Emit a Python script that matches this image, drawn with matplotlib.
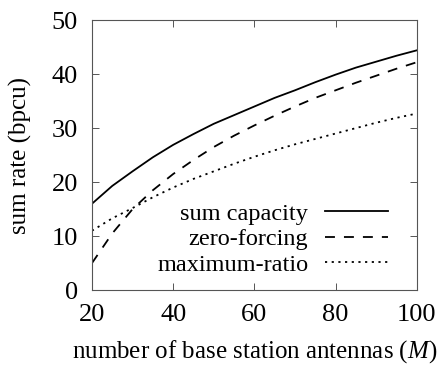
import matplotlib
matplotlib.use('Agg')
import matplotlib.pyplot as plt

plt.rcParams['font.family'] = ['Liberation Serif', 'DejaVu Serif']
plt.rcParams['mathtext.fontset'] = 'custom'
plt.rcParams['mathtext.rm'] = 'Liberation Serif'
plt.rcParams['mathtext.it'] = 'Liberation Serif:italic'

# number of antennas M
antennas = [20, 25, 30, 35, 40, 45, 50, 55, 60, 65, 70, 75, 80, 85, 90, 95, 100]
# sum rates (bpcu)
sum_capacity = [16.0, 19.3, 22.0, 24.6, 26.9, 28.9, 30.8, 32.4, 34.0, 35.6, 37.0, 38.5, 39.9, 41.2, 42.3, 43.4, 44.4]
zero_forcing = [5.0, 10.5, 15.0, 18.5, 21.5, 24.1, 26.5, 28.6, 30.5, 32.3, 34.0, 35.6, 37.0, 38.4, 39.7, 41.0, 42.2]
maximum_ratio = [11.0, 13.3, 15.2, 17.2, 19.0, 20.6, 22.0, 23.4, 24.7, 25.9, 27.0, 28.0, 29.0, 30.0, 31.0, 31.9, 32.7]

fig = plt.figure(figsize=(4.42, 3.65), dpi=100)
ax = fig.add_axes([0.208, 0.205, 0.735, 0.74])

ax.plot(antennas, sum_capacity, color='black', lw=1.3, label='sum capacity')
ax.plot(antennas, zero_forcing, color='black', lw=1.3, dashes=(5.5, 5), label='zero-forcing')
ax.plot(antennas, maximum_ratio, color='black', lw=1.3, dashes=(1.2, 2.5), label='maximum-ratio')

ax.set_xlim(20, 100)
ax.set_ylim(0, 50)
ax.set_xticks([20, 40, 60, 80, 100])
ax.set_yticks([0, 10, 20, 30, 40, 50])
ax.tick_params(direction='in', top=True, right=True, length=5, width=0.7,
               color='#555555', labelsize=19, pad=10)
for s in ax.spines.values():
    s.set_color('#555555')
    s.set_linewidth(0.8)

ax.set_xlabel('number of base station antennas ($M$)', fontsize=18, labelpad=9)
ax.set_ylabel('sum rate (bpcu)', fontsize=18, labelpad=14)

ax.legend(loc='lower right', frameon=False, markerfirst=False, fontsize=17.5,
          handlelength=2.6, handletextpad=0.7, labelspacing=0.15,
          borderaxespad=0.3, bbox_to_anchor=(0.965, -0.01))

fig.savefig('out.png', dpi=100)
